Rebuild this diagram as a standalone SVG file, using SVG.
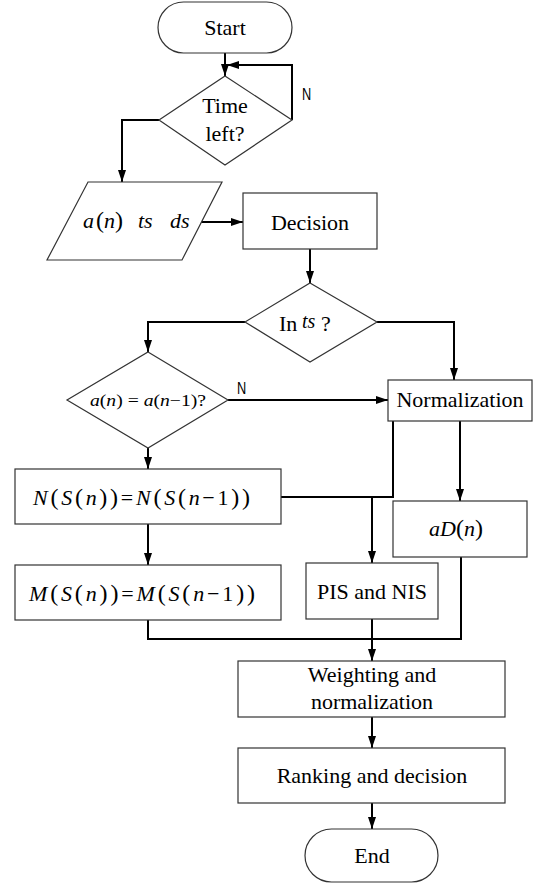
<svg xmlns="http://www.w3.org/2000/svg" width="537" height="884" viewBox="0 0 537 884">
<defs>
<marker id="ah" viewBox="0 0 12 8" refX="12" refY="4" markerWidth="12" markerHeight="8" markerUnits="userSpaceOnUse" orient="auto">
<path d="M0,0 L12,4 L0,8 z" fill="#000"/>
</marker>
</defs>
<style>
.shape{fill:#fff;stroke:#333;stroke-width:1.2}
.t{font-size:22px;fill:#000}
.m{text-anchor:middle}
.i{font-style:italic}
.p{font-size:24px}
.lab{font-size:17px;fill:#000}
.c{fill:none;stroke:#000;stroke-width:2}
.a{marker-end:url(#ah)}
</style>
<rect width="537" height="884" fill="#fff"/>

<g id="connectors">
<path class="c a" d="M225,53 V76"/>
<path class="c a" d="M292,120 V65 H227"/>
<path class="c a" d="M159,120 H122 V182"/>
<path class="c a" d="M201,222 H243"/>
<path class="c a" d="M310,249 V283"/>
<path class="c a" d="M245,322 H148 V352"/>
<path class="c a" d="M377,322 H454 V380"/>
<path class="c a" d="M228,400 H388"/>
<path class="c a" d="M148,448 V469"/>
<path class="c a" d="M148,524 V565"/>
<path class="c" d="M393,421 V497 H281"/>
<path class="c a" d="M372,497 V563"/>
<path class="c a" d="M460,421 V501"/>
<path class="c" d="M148,620 V639 H461 V557"/>
<path class="c a" d="M372,619 V661"/>
<path class="c a" d="M372,717 V748"/>
<path class="c a" d="M372,803 V829"/>
<text class="lab" font-family="Liberation Sans, Arial, sans-serif" transform="translate(302,100) scale(0.75,1)">N</text>
<text class="lab" font-family="Liberation Sans, Arial, sans-serif" transform="translate(237,394) scale(0.75,1)">N</text>
</g>

<g font-family="Liberation Serif, Times New Roman, Noto Serif, DejaVu Serif, serif">
<g id="start">
<rect class="shape" x="158" y="2" width="134" height="51" rx="25.5"/>
<text class="t m" x="225" y="35">Start</text>
</g>

<g id="time-left">
<polygon class="shape" points="225,76 292,120 225,165 159,120"/>
<text class="t m" x="225" y="113">Time</text>
<text class="t m" x="225" y="141">left?</text>
</g>

<g id="input">
<polygon class="shape" points="88,182 222,182 182,260 47,260"/>
<text class="t" x="83" y="228"><tspan class="i">a</tspan><tspan class="p" dx="2">(</tspan><tspan class="i">n</tspan><tspan class="p">)</tspan></text>
<text class="t i" x="138" y="228">ts</text>
<text class="t i" x="170" y="228">ds</text>
</g>

<g id="decision">
<rect class="shape" x="243" y="193" width="134" height="56"/>
<text class="t m" x="310" y="230">Decision</text>
</g>

<g id="in-ts">
<polygon class="shape" points="310,283 377,322 310,362 245,322"/>
<text class="t" x="279" y="331">In</text>
<text class="t i" x="302" y="328" style="font-size:20px">ts</text>
<text class="t" x="321" y="331">?</text>
</g>

<g id="same-action">
<polygon class="shape" points="148,352 228,400 148,448 67,400"/>
<text class="t" x="90" y="406" style="font-size:16px" textLength="116" lengthAdjust="spacingAndGlyphs"><tspan class="i">a</tspan>(<tspan class="i">n</tspan>) = <tspan class="i">a</tspan>(<tspan class="i">n</tspan>−1)?</text>
</g>

<g id="normalization">
<rect class="shape" x="388" y="380" width="144" height="41"/>
<text class="t m" x="460" y="407">Normalization</text>
</g>

<g id="n-box">
<rect class="shape" x="15" y="469" width="266" height="55"/>
<text class="t" x="33" y="505" textLength="217" lengthAdjust="spacing"><tspan class="i">N</tspan><tspan class="p">(</tspan><tspan class="i">S</tspan><tspan class="p">(</tspan><tspan class="i">n</tspan><tspan class="p">))</tspan>=<tspan class="i">N</tspan><tspan class="p">(</tspan><tspan class="i">S</tspan><tspan class="p">(</tspan><tspan class="i">n</tspan>−1<tspan class="p">))</tspan></text>
</g>

<g id="m-box">
<rect class="shape" x="15" y="565" width="266" height="55"/>
<text class="t" x="29" y="601" textLength="226" lengthAdjust="spacing"><tspan class="i">M</tspan><tspan class="p">(</tspan><tspan class="i">S</tspan><tspan class="p">(</tspan><tspan class="i">n</tspan><tspan class="p">))</tspan>=<tspan class="i">M</tspan><tspan class="p">(</tspan><tspan class="i">S</tspan><tspan class="p">(</tspan><tspan class="i">n</tspan>−1<tspan class="p">))</tspan></text>
</g>

<g id="ad">
<rect class="shape" x="393" y="501" width="134" height="56"/>
<text class="t" x="429" y="536"><tspan class="i">aD</tspan><tspan class="p">(</tspan><tspan class="i">n</tspan><tspan class="p">)</tspan></text>
</g>

<g id="pis-nis">
<rect class="shape" x="306" y="563" width="132" height="56"/>
<text class="t m" x="372" y="599">PIS and NIS</text>
</g>

<g id="weighting">
<rect class="shape" x="238" y="661" width="267" height="56"/>
<text class="t m" x="372" y="682">Weighting and</text>
<text class="t m" x="372" y="709">normalization</text>
</g>

<g id="ranking">
<rect class="shape" x="238" y="748" width="267" height="55"/>
<text class="t m" x="372" y="783">Ranking and decision</text>
</g>

<g id="end">
<rect class="shape" x="305" y="829" width="133" height="53" rx="26.5"/>
<text class="t m" x="372" y="863">End</text>
</g>
</g>
</svg>
